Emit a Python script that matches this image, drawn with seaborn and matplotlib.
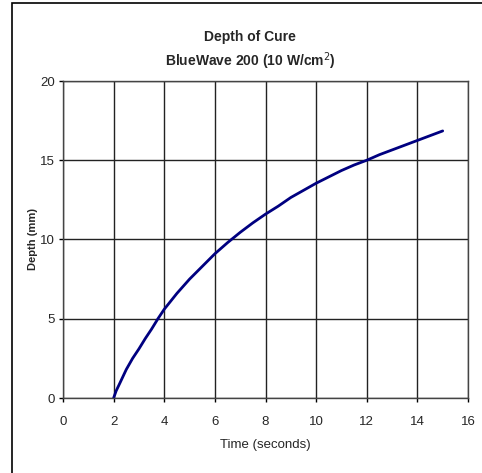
import matplotlib
matplotlib.use("Agg")
import matplotlib.pyplot as plt
import seaborn as sns
import pandas as pd
from matplotlib.patches import Rectangle

# values
time_s = [2, 2.1, 2.25, 2.5, 2.75, 3, 3.25, 3.5, 3.75, 4, 4.5, 5, 5.5, 6, 6.5, 7,
          7.5, 8, 8.5, 9, 9.5, 10, 10.5, 11, 11.5, 12, 12.5, 13, 13.5, 14, 14.5, 15]
depth_mm = [0, 0.45, 0.95, 1.8, 2.5, 3.1, 3.75, 4.35, 5.0, 5.6, 6.6, 7.5, 8.3,
            9.1, 9.8, 10.45, 11.05, 11.6, 12.1, 12.65, 13.1, 13.55, 13.95, 14.35,
            14.7, 15.0, 15.35, 15.65, 15.95, 16.25, 16.55, 16.85]
x_ticks = [0, 2, 4, 6, 8, 10, 12, 14, 16]
y_ticks = [0, 5, 10, 15, 20]

df = pd.DataFrame({"Time": time_s, "Depth": depth_mm})

sns.set_style("white")
plt.rcParams["font.family"] = ["Liberation Sans Narrow", "Liberation Sans", "DejaVu Sans"]

fig = plt.figure(figsize=(4.82, 4.73), dpi=100)
ax = fig.add_axes([63 / 482, 75 / 473, 405 / 482, 317 / 473])

sns.lineplot(data=df, x="Time", y="Depth", color="#000080", linewidth=2, ax=ax)

ax.set_xlim(0, 16)
ax.set_ylim(0, 20)
ax.set_xticks(x_ticks)
ax.set_yticks(y_ticks)
ax.grid(True, color="#222222", linewidth=1)
ax.tick_params(axis="both", direction="out", length=3, width=1, color="black",
               labelsize=9.5, bottom=True, left=True)
ax.tick_params(axis="x", pad=10)
ax.tick_params(axis="y", pad=3)
for s in ax.spines.values():
    s.set_color("#444444")
    s.set_linewidth(1)
ax.set_xlabel("Time (seconds)", fontsize=9.5, labelpad=8)
ax.set_ylabel("Depth (mm)", fontsize=8, fontweight="bold")
ax.yaxis.set_label_coords((38 - 63) / 405, 0.5)

fig.text(250 / 482, 1 - 37 / 473, "Depth of Cure", ha="center", va="center",
         fontsize=10, fontweight="bold")
fig.text(250 / 482, 1 - 61 / 473, r"BlueWave 200 (10 W/cm$^2$)", ha="center",
         va="center", fontsize=10, fontweight="bold")

# outer chart frame (left and top edges visible in the reference)
fig.patches.append(Rectangle((12 / 482, -0.1), 1.0, 1 - 3 / 473 + 0.1,
                             transform=fig.transFigure, fill=False,
                             edgecolor="black", linewidth=1.2))

fig.savefig("out.png", dpi=100)
